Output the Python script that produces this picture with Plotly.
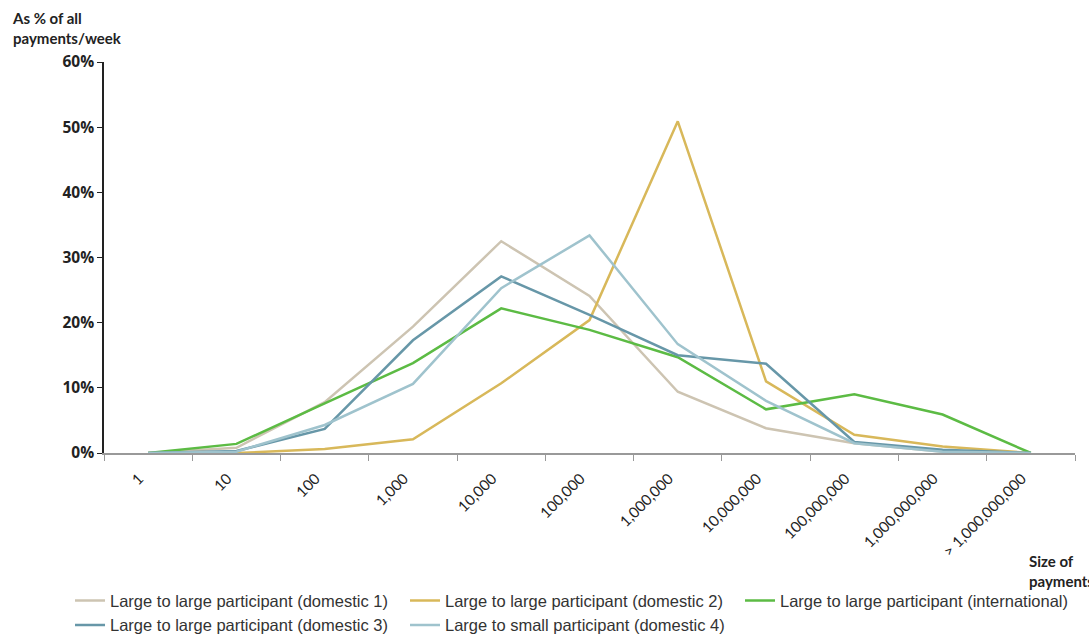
import plotly.graph_objects as go

sizes = ["1", "10", "100", "1,000", "10,000", "100,000", "1,000,000",
         "10,000,000", "100,000,000", "1,000,000,000", "> 1,000,000,000"]

domestic_1 = [0, 0.8, 7.8, 19.4, 32.5, 24.1, 9.4, 3.8, 1.5, 0.2, 0]
domestic_2 = [0, 0, 0.6, 2.1, 10.7, 20.4, 50.9, 11.0, 2.8, 1.0, 0]
international = [0, 1.4, 7.6, 13.8, 22.2, 18.9, 14.7, 6.7, 9.0, 5.9, 0]
domestic_3 = [0, 0.3, 3.7, 17.3, 27.1, 21.2, 15.0, 13.7, 1.7, 0.5, 0]
domestic_4 = [0, 0.2, 4.3, 10.6, 25.3, 33.4, 16.7, 8.0, 1.5, 0.2, 0]

series = [
    ("Large to large participant (domestic 1)", domestic_1, "#CDC4B2"),
    ("Large to large participant (domestic 2)", domestic_2, "#D8B85A"),
    ("Large to large participant (international)", international, "#5CBB44"),
    ("Large to large participant (domestic 3)", domestic_3, "#6797A8"),
    ("Large to small participant (domestic 4)", domestic_4, "#9FC3CD"),
]

fig = go.Figure()
for name, vals, col in series:
    fig.add_trace(go.Scatter(x=sizes, y=vals, name=name, mode="lines",
                             line=dict(color=col, width=2.5)))

fig.update_layout(
    width=1089, height=634,
    margin=dict(l=104, r=14, t=62, b=181, autoexpand=False),
    plot_bgcolor="white", paper_bgcolor="white",
    font=dict(family="Lato, sans-serif", color="#222", size=14),
    showlegend=True,
    legend=dict(orientation="h", x=-0.035, y=-0.333, yanchor="top", xanchor="left",
                entrywidth=290, entrywidthmode="pixels", tracegroupgap=0,
                font=dict(family="Liberation Sans, Arial", size=16.5, color="#333")),
    xaxis=dict(type="category", tickangle=-45, showline=True, linecolor="#999",
               linewidth=2, ticks="outside", tickcolor="#999", ticklen=6,
               tickson="boundaries", showgrid=False, zeroline=False,
               automargin=False, ticklabelstandoff=9, ticklabelshift=-9,
               tickfont=dict(family="Lato, sans-serif", size=15, color="#222"),
               range=[-0.5, 10.5]),
    yaxis=dict(range=[0, 60], dtick=10, ticksuffix="%", showline=True,
               linecolor="#222", linewidth=1.5, ticks="outside", tickcolor="#222",
               ticklen=5, showgrid=False, zeroline=False, automargin=False,
               tickfont=dict(family="Open Sans, sans-serif", size=15.5, color="#222",
                             weight="bold")),
    annotations=[
        dict(text="<b>As % of all<br>payments/week</b>", xref="paper", yref="paper",
             x=-0.097, y=1.14, xanchor="left", yanchor="top", align="left",
             showarrow=False, font=dict(size=15, color="#222")),
        dict(text="<b>Size of<br>payments</b>", xref="paper", yref="paper",
             x=0.951, y=-0.247, xanchor="left", yanchor="top", align="left",
             showarrow=False, font=dict(size=15, color="#222")),
    ],
)

fig.write_html("out.html", config={"displayModeBar": False},
               post_script="document.body.style.margin='0';"
                           "document.body.style.overflow='hidden';")
